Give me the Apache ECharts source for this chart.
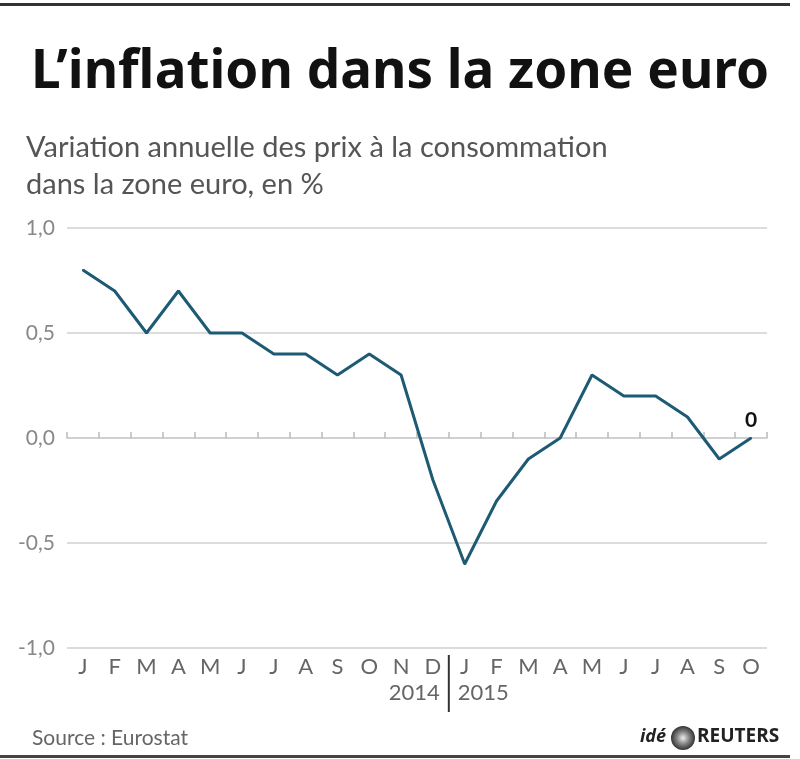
<!DOCTYPE html>
<html>
<head>
    <meta charset="UTF-8">
    <title>L'inflation dans la zone euro</title>
    <script src="https://cdn.jsdelivr.net/npm/echarts@6/dist/echarts.min.js"></script>
    <style>
        html, body { margin: 0; padding: 0; background: #fff; }
        #chart { width: 800px; height: 759px; }
    </style>
</head>
<body>
<div id="chart"></div>
<script>
    // mois (2014 puis 2015)
    var months = ['J', 'F', 'M', 'A', 'M', 'J', 'J', 'A', 'S', 'O', 'N', 'D',
                  'J', 'F', 'M', 'A', 'M', 'J', 'J', 'A', 'S', 'O'];
    var years = ['2014', '2015'];
    // variation annuelle, en %
    var inflation = [0.8, 0.7, 0.5, 0.7, 0.5, 0.5, 0.4, 0.4, 0.3, 0.4, 0.3, -0.2,
                     -0.6, -0.3, -0.1, 0.0, 0.3, 0.2, 0.2, 0.1, -0.1, 0.0];
    var yTicks = [-1.0, -0.5, 0.0, 0.5, 1.0];

    var chart = echarts.init(document.getElementById('chart'));
    var cats = months.map(function (m, i) { return i + ':' + m; });
    var yearStart = 12; // index du premier mois de 2015
    var lineColor = '#1d5a74';

    var option = {
        animation: false,
        backgroundColor: '#fff',
        textStyle: { fontFamily: 'Lato' },
        title: [{
            text: 'L\u2019inflation dans la zone euro',
            left: 'center', top: 41,
            textStyle: { fontFamily: 'Noto Sans', fontWeight: 'bold', fontSize: 53, color: '#111' }
        }, {
            text: 'Variation annuelle des prix à la consommation\ndans la zone euro, en %',
            left: 21, top: 124,
            textStyle: { fontFamily: 'Lato', fontWeight: 'normal', fontSize: 29, color: '#555', lineHeight: 37 }
        }, {
            text: 'Source : Eurostat',
            left: 27, top: 723,
            textStyle: { fontFamily: 'Lato', fontWeight: 'normal', fontSize: 21, color: '#666' }
        }],
        grid: { left: 67, right: 33, top: 228, bottom: 111 },
        xAxis: [{
            type: 'category',
            data: cats,
            position: 'bottom',
            axisLine: { show: false, onZero: false },
            axisTick: { show: false },
            axisLabel: {
                interval: 0, margin: 8, fontSize: 22, color: '#666', fontFamily: 'Lato',
                formatter: function (v) { return v.split(':')[1]; }
            }
        }, {
            // ligne du zéro avec ses graduations vers le haut
            type: 'category',
            data: cats,
            position: 'top',
            axisLine: { show: true, onZero: true, lineStyle: { color: '#ccc', width: 1.5 } },
            axisTick: { show: true, interval: 0, inside: false, length: 6, lineStyle: { color: '#bbb', width: 1.5 } },
            axisLabel: { show: false, interval: 0 }
        }],
        yAxis: {
            type: 'value',
            min: yTicks[0], max: yTicks[yTicks.length - 1], interval: 0.5,
            axisLine: { show: false },
            axisTick: { show: false },
            splitLine: { lineStyle: { color: '#d0d0d0', width: 1.5 } },
            axisLabel: {
                margin: 12, fontSize: 21, color: '#888', fontFamily: 'Lato',
                formatter: function (v) { return v.toFixed(1).replace('.', ','); }
            }
        },
        series: [{
            type: 'line',
            xAxisIndex: 0,
            data: inflation,
            symbol: 'circle',
            symbolSize: 2,
            showSymbol: true,
            itemStyle: { color: lineColor },
            lineStyle: { color: lineColor, width: 3 },
            label: {
                show: true, position: 'top', distance: 6,
                fontFamily: 'Lato', fontWeight: 'bold', fontSize: 21, color: '#111',
                formatter: function (p) {
                    return p.dataIndex === inflation.length - 1 ? String(p.value) : '';
                }
            }
        }]
    };
    chart.setOption(option);

    // séparateur des années et libellés, placés d'après l'axe
    var x0 = chart.convertToPixel({ xAxisIndex: 0 }, cats[0]);
    var x1 = chart.convertToPixel({ xAxisIndex: 0 }, cats[1]);
    var xSep = chart.convertToPixel({ xAxisIndex: 0 }, cats[yearStart]) - (x1 - x0) / 2;
    var yBase = chart.convertToPixel({ yAxisIndex: 0 }, yTicks[0]);

    chart.setOption({
        graphic: [
            { type: 'rect', shape: { x: 0, y: 3, width: 790, height: 3 }, style: { fill: '#333' } },
            { type: 'rect', shape: { x: 0, y: 755, width: 790, height: 3 }, style: { fill: '#444' } },
            { type: 'line', shape: { x1: xSep, y1: yBase + 7, x2: xSep, y2: yBase + 64 },
              style: { stroke: '#333', lineWidth: 2 } },
            { type: 'text', x: xSep - 9, y: yBase + 34,
              style: { text: years[0], fill: '#666', font: '22px Lato', textAlign: 'right' } },
            { type: 'text', x: xSep + 9, y: yBase + 34,
              style: { text: years[1], fill: '#666', font: '22px Lato', textAlign: 'left' } },
            // logo
            { type: 'text', x: 666, y: 728,
              style: { text: 'idé', fill: '#222', font: 'italic bold 18px "Open Sans"', textAlign: 'right' } },
            { type: 'circle', shape: { cx: 683, cy: 738, r: 12 },
              style: { fill: { type: 'radial', x: 0.5, y: 0.5, r: 0.5,
                      colorStops: [{ offset: 0, color: '#eee' }, { offset: 0.5, color: '#888' }, { offset: 1, color: '#333' }] } } },
            { type: 'text', x: 697, y: 727,
              style: { text: 'REUTERS', fill: '#222', font: 'bold 19px "Open Sans"', textAlign: 'left' } }
        ]
    });
</script>
</body>
</html>
